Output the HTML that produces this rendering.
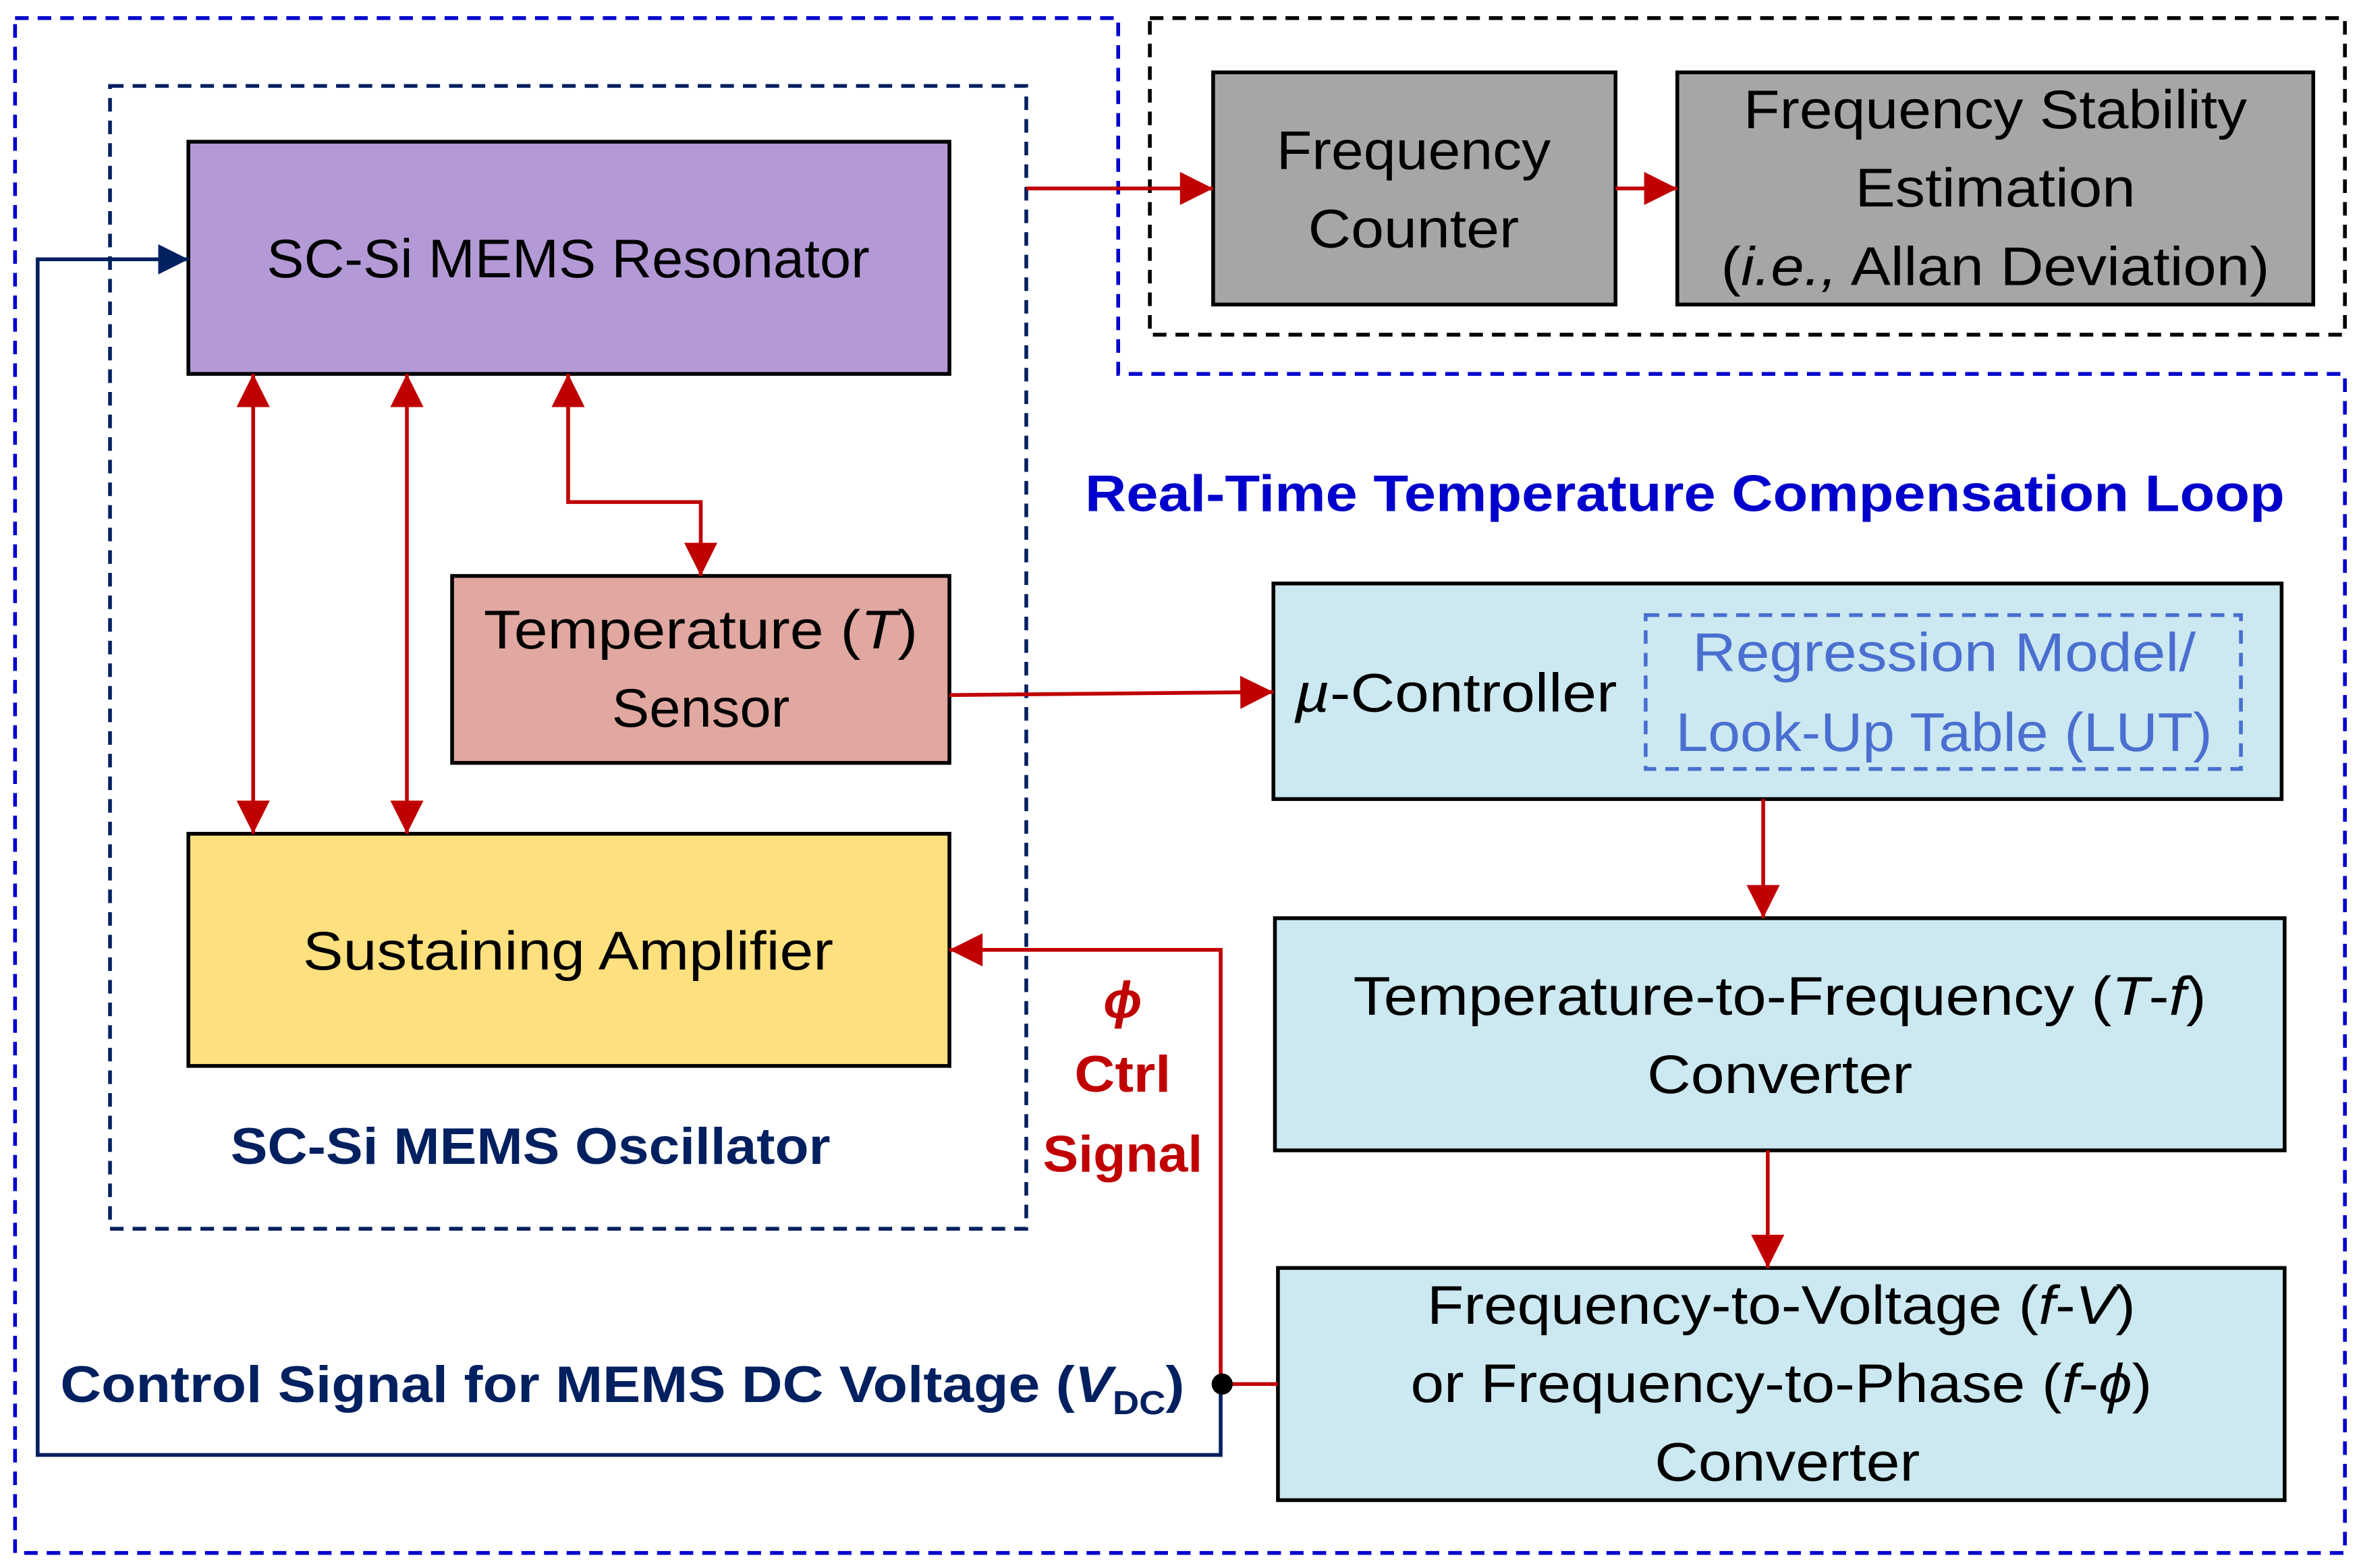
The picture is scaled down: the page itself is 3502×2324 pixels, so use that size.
<!DOCTYPE html>
<html><head><meta charset="utf-8"><style>html,body{margin:0;padding:0;background:#fff}svg{display:block}text{font-family:"Liberation Sans",sans-serif}</style></head>
<body>
<svg width="3502" height="2324" viewBox="0 0 1568 1040" preserveAspectRatio="none" xmlns="http://www.w3.org/2000/svg">
<defs>
<marker id="ar" viewBox="0 0 10 10" refX="10" refY="5" markerWidth="5" markerHeight="5" orient="auto-start-reverse" markerUnits="userSpaceOnUse"><path d="M0,0L10,5L0,10z" fill="#c00000"/></marker>
<marker id="rr" viewBox="0 0 10 10" refX="10" refY="5" markerWidth="24" markerHeight="22" orient="auto-start-reverse" markerUnits="userSpaceOnUse"><path d="M0,0L10,5L0,10z" fill="#c00000"/></marker>
<marker id="nv" viewBox="0 0 10 10" refX="10" refY="5" markerWidth="24" markerHeight="20" orient="auto" markerUnits="userSpaceOnUse"><path d="M0,0L10,5L0,10z" fill="#002060"/></marker>
</defs>
<rect width="1568" height="1040" fill="#fff"/>
<!-- outer blue dashed -->
<path d="M10,12H742V248H1556V1030H10Z" fill="none" stroke="#0000cc" stroke-width="2.5" stroke-dasharray="9,6"/>
<rect x="763" y="12" width="793" height="210" fill="none" stroke="#000" stroke-width="2.5" stroke-dasharray="9,6"/>
<rect x="73" y="57" width="608" height="758" fill="none" stroke="#002060" stroke-width="2.5" stroke-dasharray="9,6"/>
<!-- boxes -->
<rect x="125" y="94" width="505" height="154" fill="#b39ad6" stroke="#000" stroke-width="2.5"/>
<text x="377" y="184" font-size="36" text-anchor="middle" textLength="400" lengthAdjust="spacingAndGlyphs">SC-Si MEMS Resonator</text>
<rect x="300" y="382" width="330" height="124" fill="#e0a8a0" stroke="#000" stroke-width="2.5"/>
<text x="465" y="430" font-size="36" text-anchor="middle" textLength="288" lengthAdjust="spacingAndGlyphs">Temperature (<tspan font-style="italic">T</tspan>)</text>
<text x="465" y="482" font-size="36" text-anchor="middle" textLength="118" lengthAdjust="spacingAndGlyphs">Sensor</text>
<rect x="125" y="553" width="505" height="154" fill="#ffe07f" stroke="#000" stroke-width="2.5"/>
<text x="377" y="643" font-size="36" text-anchor="middle" textLength="352" lengthAdjust="spacingAndGlyphs">Sustaining Amplifier</text>
<text x="352" y="772" font-size="34" font-weight="bold" fill="#002060" text-anchor="middle" textLength="398" lengthAdjust="spacingAndGlyphs">SC-Si MEMS Oscillator</text>
<rect x="805" y="48" width="267" height="154" fill="#a6a6a6" stroke="#000" stroke-width="2.5"/>
<text x="938" y="112" font-size="36" text-anchor="middle" textLength="182" lengthAdjust="spacingAndGlyphs">Frequency</text>
<text x="938" y="164" font-size="36" text-anchor="middle" textLength="140" lengthAdjust="spacingAndGlyphs">Counter</text>
<rect x="1113" y="48" width="422" height="154" fill="#a6a6a6" stroke="#000" stroke-width="2.5"/>
<text x="1324" y="85" font-size="36" text-anchor="middle" textLength="334" lengthAdjust="spacingAndGlyphs">Frequency Stability</text>
<text x="1324" y="137" font-size="36" text-anchor="middle" textLength="186" lengthAdjust="spacingAndGlyphs">Estimation</text>
<text x="1324" y="189" font-size="36" text-anchor="middle" textLength="364" lengthAdjust="spacingAndGlyphs">(<tspan font-style="italic">i.e.,</tspan> Allan Deviation)</text>
<text x="1118" y="339" font-size="34" font-weight="bold" fill="#0000cc" text-anchor="middle" textLength="796" lengthAdjust="spacingAndGlyphs">Real-Time Temperature Compensation Loop</text>
<rect x="845" y="387" width="669" height="143" fill="#cce8f0" stroke="#000" stroke-width="2.5"/>
<text x="966" y="472" font-size="36" text-anchor="middle" textLength="214" lengthAdjust="spacingAndGlyphs"><tspan font-style="italic">µ</tspan>-Controller</text>
<rect x="1092" y="408" width="395" height="102" fill="none" stroke="#4a6fd0" stroke-width="2.5" stroke-dasharray="9,6"/>
<text x="1290" y="445" font-size="36" fill="#4a6fd0" text-anchor="middle" textLength="334" lengthAdjust="spacingAndGlyphs">Regression Model/</text>
<text x="1290" y="498" font-size="36" fill="#4a6fd0" text-anchor="middle" textLength="356" lengthAdjust="spacingAndGlyphs">Look-Up Table (LUT)</text>
<rect x="846" y="609" width="670" height="154" fill="#cce8f0" stroke="#000" stroke-width="2.5"/>
<text x="1181" y="673" font-size="36" text-anchor="middle" textLength="566" lengthAdjust="spacingAndGlyphs">Temperature-to-Frequency (<tspan font-style="italic">T</tspan>-<tspan font-style="italic">f</tspan>)</text>
<text x="1181" y="725" font-size="36" text-anchor="middle" textLength="176" lengthAdjust="spacingAndGlyphs">Converter</text>
<rect x="848" y="841" width="668" height="154" fill="#cce8f0" stroke="#000" stroke-width="2.5"/>
<text x="1182" y="878" font-size="36" text-anchor="middle" textLength="470" lengthAdjust="spacingAndGlyphs">Frequency-to-Voltage (<tspan font-style="italic">f</tspan>-<tspan font-style="italic">V</tspan>)</text>
<text x="1182" y="930" font-size="36" text-anchor="middle" textLength="492" lengthAdjust="spacingAndGlyphs">or Frequency-to-Phase (<tspan font-style="italic">f</tspan>-<tspan font-style="italic">ϕ</tspan>)</text>
<text x="1186" y="982" font-size="36" text-anchor="middle" textLength="176" lengthAdjust="spacingAndGlyphs">Converter</text>
<!-- red connectors -->
<g stroke="#c00000" stroke-width="2.5" fill="none">
<line x1="681" y1="125" x2="805" y2="125" marker-end="url(#rr)"/>
<line x1="1072" y1="125" x2="1113" y2="125" marker-end="url(#rr)"/>
<line x1="168" y1="248" x2="168" y2="553" marker-start="url(#rr)" marker-end="url(#rr)"/>
<line x1="270" y1="248" x2="270" y2="553" marker-start="url(#rr)" marker-end="url(#rr)"/>
<path d="M377,248V333H465V382" marker-start="url(#rr)" marker-end="url(#rr)"/>
<line x1="630" y1="461" x2="845" y2="459" marker-end="url(#rr)"/>
<line x1="1170" y1="530" x2="1170" y2="609" marker-end="url(#rr)"/>
<line x1="1173" y1="763" x2="1173" y2="841" marker-end="url(#rr)"/>
<path d="M848,918H810V630H630" marker-end="url(#rr)"/>
</g>
<path d="M810,918V965H25V172H125" fill="none" stroke="#002060" stroke-width="2.5" marker-end="url(#nv)"/>
<circle cx="811" cy="918" r="7" fill="#000"/>
<text x="745" y="675" font-size="34" font-weight="bold" font-style="italic" fill="#c00000" text-anchor="middle">ϕ</text>
<text x="745" y="724" font-size="34" font-weight="bold" fill="#c00000" text-anchor="middle" textLength="64" lengthAdjust="spacingAndGlyphs">Ctrl</text>
<text x="745" y="777" font-size="34" font-weight="bold" fill="#c00000" text-anchor="middle" textLength="106" lengthAdjust="spacingAndGlyphs">Signal</text>
<text x="40" y="930" font-size="34" font-weight="bold" fill="#002060" textLength="746" lengthAdjust="spacingAndGlyphs">Control Signal for MEMS DC Voltage (<tspan font-style="italic">V</tspan><tspan font-size="22" dy="8">DC</tspan><tspan dy="-8">)</tspan></text>
</svg>
</body></html>
